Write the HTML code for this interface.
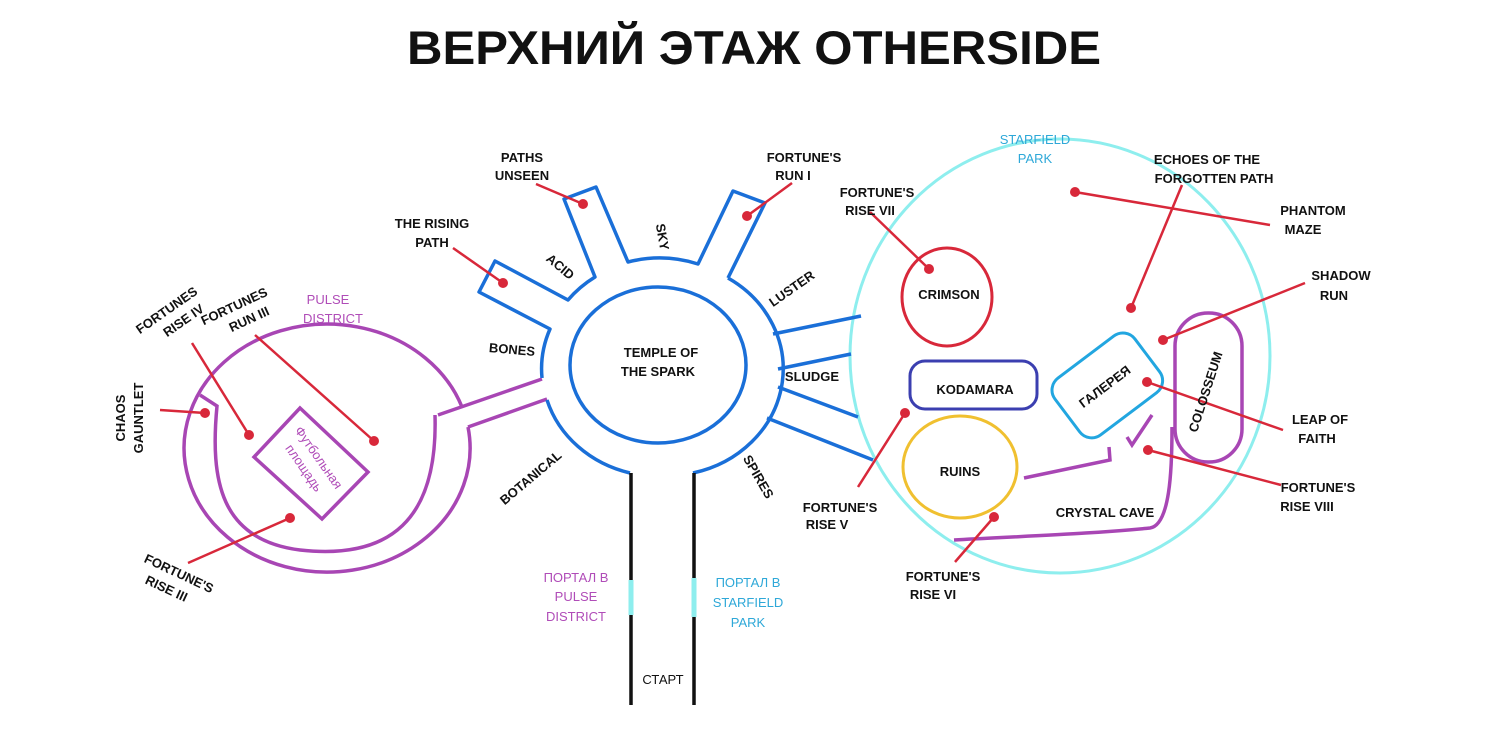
<!DOCTYPE html>
<html><head><meta charset="utf-8"><style>
html,body{margin:0;padding:0;background:#fff;}
svg{display:block;}
text{font-family:"Liberation Sans","DejaVu Sans",sans-serif;font-weight:bold;font-size:13px;fill:#111;text-anchor:middle;}
.t{font-size:47px;}
.r{font-weight:normal;}
.pu{fill:#b04cb8;font-weight:normal;}
.cy{fill:#2ea8d8;font-weight:normal;}
</style></head><body>
<svg width="1500" height="730" viewBox="0 0 1500 730" xmlns="http://www.w3.org/2000/svg">
<text class="t" x="754" y="64" textLength="694" lengthAdjust="spacingAndGlyphs">ВЕРХНИЙ ЭТАЖ OTHERSIDE</text>

<!-- starfield circle -->
<ellipse cx="1060" cy="356" rx="210" ry="217" fill="none" stroke="#8eeeee" stroke-width="3"/>

<!-- pulse district -->
<g fill="none" stroke="#a846b4" stroke-width="3.5">
<path d="M462,407 A143,124 0 1 0 468,427"/>
<path d="M200,395 L217,406 C210,480 220,540 300,550 C390,560 438,520 435,415"/>
<path d="M438,415 L542,379"/>
<path d="M468,427 L547,399"/>
<path d="M300,408 L368,472 L322,519 L254,457 Z"/>
<path d="M1152,415 L1132,445 L1127,437"/>
<path d="M1024,478 L1110,460 L1109,447"/>
<path d="M954,540 C1050,535 1100,533 1150,528 C1170,525 1172,470 1172,427"/>
<rect x="1175" y="313" width="67" height="149" rx="33" ry="33"/>
</g>

<!-- hub -->
<g fill="none" stroke="#1a6fd8" stroke-width="3.5" stroke-linejoin="round">
<ellipse cx="658" cy="365" rx="88" ry="78"/>
<path d="M547,400 A117,107 0 0 0 630,473"/>
<path d="M693,473 A117,107 0 0 0 728,278"/>
<path d="M542,378 A117,107 0 0 1 550,329 L479,292 L495,261 L568,300 A117,107 0 0 1 595,277 L564,199 L596,187 L628,262 A117,107 0 0 1 698,264 L733,191 L765,203 L728,278"/>
<path d="M773,334 L861,316 M778,369 L851,354 M778,387 L858,417 M767,418 L873,460"/>
</g>

<!-- ruins etc -->
<ellipse cx="947" cy="297" rx="45" ry="49" fill="none" stroke="#d8283a" stroke-width="3"/>
<rect x="910" y="361" width="127" height="48" rx="15" fill="none" stroke="#3b3fb0" stroke-width="3"/>
<ellipse cx="960" cy="467" rx="57" ry="51" fill="none" stroke="#f0c030" stroke-width="3"/>
<rect x="1057" y="350" width="100" height="71" rx="15" fill="none" stroke="#22a6e0" stroke-width="3" transform="rotate(-37 1107 385)"/>

<!-- portal -->
<g stroke="#111" stroke-width="3.5"><line x1="631" y1="473" x2="631" y2="705"/><line x1="694" y1="473" x2="694" y2="705"/></g>
<g stroke="#8eeeee" stroke-width="5"><line x1="631" y1="580" x2="631" y2="615"/><line x1="694" y1="578" x2="694" y2="617"/></g>

<!-- red pointers -->
<g stroke="#d8283a" stroke-width="2.5">
<line x1="160" y1="410" x2="205" y2="413"/>
<line x1="192" y1="343" x2="249" y2="435"/>
<line x1="255" y1="335" x2="374" y2="441"/>
<line x1="188" y1="563" x2="290" y2="518"/>
<line x1="453" y1="248" x2="503" y2="283"/>
<line x1="536" y1="184" x2="583" y2="204"/>
<line x1="792" y1="183" x2="747" y2="216"/>
<line x1="870" y1="212" x2="929" y2="269"/>
<line x1="858" y1="487" x2="905" y2="413"/>
<line x1="955" y1="562" x2="994" y2="517"/>
<line x1="1182" y1="185" x2="1131" y2="308"/>
<line x1="1305" y1="283" x2="1163" y2="340"/>
<line x1="1283" y1="430" x2="1147" y2="382"/>
<line x1="1281" y1="485" x2="1148" y2="450"/>
<line x1="1270" y1="225" x2="1075" y2="192"/>
</g>
<g fill="#d8283a">
<circle cx="205" cy="413" r="5"/><circle cx="249" cy="435" r="5"/><circle cx="374" cy="441" r="5"/><circle cx="290" cy="518" r="5"/>
<circle cx="503" cy="283" r="5"/><circle cx="583" cy="204" r="5"/><circle cx="747" cy="216" r="5"/><circle cx="929" cy="269" r="5"/>
<circle cx="905" cy="413" r="5"/><circle cx="994" cy="517" r="5"/><circle cx="1131" cy="308" r="5"/><circle cx="1163" cy="340" r="5"/>
<circle cx="1147" cy="382" r="5"/><circle cx="1148" cy="450" r="5"/><circle cx="1075" cy="192" r="5"/>
</g>

<!-- labels -->
<text x="522" y="162">PATHS</text><text x="522" y="180">UNSEEN</text>
<text x="432" y="228">THE RISING</text><text x="432" y="247">PATH</text>
<text x="560" y="271" transform="rotate(40 560 267)">ACID</text>
<text x="662" y="241" transform="rotate(80 662 237)">SKY</text>
<text x="804" y="162">FORTUNE'S</text><text x="793" y="180">RUN I</text>
<text x="877" y="197">FORTUNE'S</text><text x="870" y="215">RISE VII</text>
<text x="792" y="293" transform="rotate(-35 792 289)">LUSTER</text>
<text x="512" y="354" transform="rotate(5 512 350)">BONES</text>
<text x="661" y="357">TEMPLE OF</text><text x="658" y="376">THE SPARK</text>
<text x="812" y="381">SLUDGE</text>
<text x="531" y="482" transform="rotate(-40 531 478)">BOTANICAL</text>
<text x="758" y="481" transform="rotate(60 758 477)">SPIRES</text>
<text class="cy" x="1035" y="144">STARFIELD</text><text class="cy" x="1035" y="163">PARK</text>
<text x="1207" y="164">ECHOES OF THE</text><text x="1214" y="183">FORGOTTEN PATH</text>
<text x="1313" y="215">PHANTOM</text><text x="1303" y="234">MAZE</text>
<text x="1341" y="280">SHADOW</text><text x="1334" y="300">RUN</text>
<text x="949" y="299">CRIMSON</text>
<text x="975" y="394">KODAMARA</text>
<text x="1105" y="391" transform="rotate(-37 1105 387)">ГАЛЕРЕЯ</text>
<text x="1206" y="396" transform="rotate(-72 1206 392)">COLOSSEUM</text>
<text x="960" y="476">RUINS</text>
<text x="1320" y="424">LEAP OF</text><text x="1317" y="443">FAITH</text>
<text x="1318" y="492">FORTUNE'S</text><text x="1307" y="511">RISE VIII</text>
<text x="1105" y="517">CRYSTAL CAVE</text>
<text x="840" y="512">FORTUNE'S</text><text x="827" y="529">RISE V</text>
<text x="943" y="581">FORTUNE'S</text><text x="933" y="599">RISE VI</text>
<text class="pu" x="576" y="582">ПОРТАЛ В</text><text class="pu" x="576" y="601">PULSE</text><text class="pu" x="576" y="621">DISTRICT</text>
<text class="cy" x="748" y="587">ПОРТАЛ В</text><text class="cy" x="748" y="607">STARFIELD</text><text class="cy" x="748" y="627">PARK</text>
<text class="r" x="663" y="684">СТАРТ</text>
<text class="pu" x="328" y="304">PULSE</text><text class="pu" x="333" y="323">DISTRICT</text>
<g transform="rotate(-35 172 318)"><text x="172" y="313">FORTUNES</text><text x="180" y="331">RISE IV</text></g>
<g transform="rotate(-25 240 314)"><text x="238" y="309">FORTUNES</text><text x="246" y="327">RUN III</text></g>
<g transform="rotate(-90 134 418)"><text x="134" y="409">CHAOS</text><text x="134" y="427">GAUNTLET</text></g>
<g transform="rotate(25 175 582)"><text x="175" y="577">FORTUNE'S</text><text x="170" y="596">RISE III</text></g>
<g transform="rotate(55 311 463)"><text class="pu" x="311" y="458">Футбольная</text><text class="pu" x="311" y="476">площадь</text></g>
</svg>
</body></html>
